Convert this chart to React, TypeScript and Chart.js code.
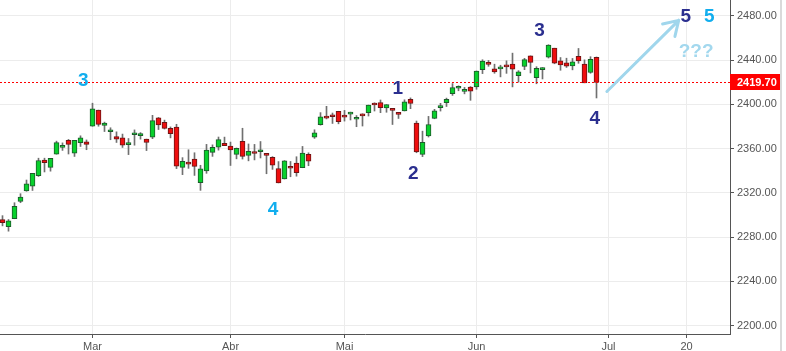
import React, { useEffect, useRef } from 'react';
import { Chart, registerables } from 'chart.js';

Chart.register(...registerables);

// S&P 500 daily candles, 7 Feb – 29 Jun (trading-day index 0..99)
const opens = [
  2295.87, 2289.55, 2296.70, 2312.27, 2321.72, 2326.12, 2335.58, 2349.64, 2343.01, 2354.91,
  2361.11, 2367.50, 2355.73, 2365.23, 2366.08, 2380.13, 2394.75, 2380.92, 2375.23, 2370.74,
  2369.81, 2363.49, 2372.52, 2371.56, 2368.55, 2370.34, 2387.71, 2383.71, 2378.24, 2379.32,
  2343.00, 2345.97, 2350.42, 2329.11, 2339.79, 2356.54, 2361.31, 2364.82, 2362.34, 2354.76,
  2366.59, 2353.79, 2356.59, 2357.16, 2353.92, 2352.15, 2341.98, 2332.62, 2342.53, 2346.79,
  2342.69, 2354.74, 2370.33, 2381.51, 2388.98, 2389.70, 2393.68, 2388.50, 2391.05, 2386.50,
  2389.79, 2392.37, 2399.94, 2401.58, 2396.79, 2394.84, 2392.44, 2393.98, 2404.55, 2382.95,
  2354.69, 2371.37, 2387.21, 2397.04, 2401.41, 2409.54, 2414.50, 2411.67, 2415.63, 2415.65,
  2431.28, 2437.83, 2431.92, 2432.03, 2434.27, 2436.39, 2425.88, 2434.15, 2443.75, 2424.14,
  2431.24, 2442.55, 2450.66, 2439.31, 2437.40, 2434.65, 2443.32, 2436.34, 2428.70, 2442.38,
];
const highs = [
  2299.40, 2295.91, 2311.08, 2319.23, 2331.58, 2337.58, 2351.30, 2351.31, 2351.16, 2366.71,
  2365.13, 2368.26, 2367.34, 2371.54, 2367.79, 2400.98, 2394.75, 2383.89, 2378.80, 2375.12,
  2373.09, 2369.08, 2376.86, 2374.42, 2368.55, 2390.01, 2388.10, 2385.71, 2379.55, 2381.93,
  2351.81, 2358.92, 2356.22, 2344.90, 2363.78, 2363.36, 2370.42, 2370.35, 2365.87, 2360.53,
  2378.36, 2364.16, 2363.76, 2366.37, 2355.22, 2352.72, 2348.26, 2349.14, 2348.35, 2352.63,
  2361.92, 2356.18, 2376.98, 2392.48, 2398.16, 2392.10, 2393.68, 2394.49, 2392.93, 2389.82,
  2391.43, 2399.29, 2401.36, 2403.87, 2399.74, 2395.72, 2392.44, 2404.05, 2405.77, 2384.87,
  2375.74, 2389.06, 2395.46, 2400.85, 2405.58, 2418.71, 2416.68, 2415.26, 2415.99, 2430.06,
  2440.23, 2439.55, 2436.21, 2435.28, 2439.27, 2446.20, 2430.38, 2441.49, 2443.75, 2433.95,
  2433.15, 2453.82, 2450.66, 2442.23, 2441.62, 2441.40, 2450.42, 2440.15, 2442.97, 2442.73,
];
const lows = [
  2290.16, 2285.38, 2296.61, 2311.10, 2321.42, 2322.17, 2334.81, 2338.87, 2339.58, 2354.91,
  2358.34, 2355.09, 2352.87, 2361.87, 2358.96, 2380.13, 2380.17, 2375.39, 2367.98, 2365.51,
  2361.01, 2354.54, 2363.04, 2368.52, 2358.18, 2368.94, 2377.18, 2377.64, 2369.66, 2341.90,
  2336.45, 2342.13, 2335.74, 2322.25, 2337.63, 2352.94, 2358.58, 2362.60, 2344.73, 2350.72,
  2350.52, 2348.90, 2349.76, 2351.50, 2337.25, 2341.18, 2328.95, 2332.51, 2334.54, 2335.05,
  2342.69, 2344.51, 2369.19, 2381.15, 2386.78, 2382.68, 2382.36, 2384.83, 2385.82, 2379.75,
  2380.35, 2389.38, 2393.92, 2392.44, 2392.79, 2381.74, 2387.19, 2393.94, 2396.05, 2356.21,
  2352.72, 2370.43, 2386.92, 2393.88, 2397.99, 2408.01, 2412.20, 2409.43, 2403.59, 2413.54,
  2427.71, 2434.32, 2428.00, 2424.75, 2427.94, 2415.70, 2419.97, 2431.28, 2428.34, 2418.53,
  2422.88, 2441.79, 2436.60, 2430.74, 2433.27, 2431.11, 2437.03, 2419.38, 2428.02, 2405.70,
];
const closes = [
  2293.08, 2294.67, 2307.87, 2316.10, 2328.25, 2337.58, 2349.25, 2347.22, 2351.16, 2365.38,
  2362.82, 2363.81, 2367.34, 2369.75, 2363.64, 2395.96, 2381.92, 2383.12, 2375.31, 2368.39,
  2362.98, 2364.87, 2372.60, 2373.47, 2365.45, 2385.26, 2381.38, 2378.25, 2373.47, 2344.02,
  2348.45, 2345.96, 2343.98, 2341.59, 2358.57, 2361.13, 2368.06, 2362.72, 2358.84, 2360.16,
  2352.95, 2357.49, 2355.54, 2357.16, 2353.78, 2344.93, 2328.95, 2349.01, 2342.19, 2338.17,
  2355.84, 2348.69, 2374.15, 2388.61, 2387.45, 2388.77, 2384.20, 2388.33, 2391.17, 2388.13,
  2389.52, 2399.29, 2399.38, 2396.92, 2399.63, 2394.44, 2390.90, 2402.32, 2400.67, 2357.03,
  2365.72, 2381.73, 2394.02, 2398.42, 2404.39, 2415.07, 2415.82, 2412.91, 2411.80, 2430.06,
  2439.07, 2436.10, 2429.33, 2433.14, 2433.79, 2431.77, 2429.39, 2440.35, 2437.92, 2432.46,
  2433.15, 2453.46, 2437.03, 2435.61, 2434.50, 2438.30, 2439.07, 2419.38, 2440.69, 2419.70,
];

// x-axis: trading-day index of each month label
const monthTickIndex = [15, 38, 57, 79, 101, 114];
const monthTickLabels = ['Mar', 'Abr', 'Mai', 'Jun', 'Jul', '20'];
const priceTicks = [2200, 2240, 2280, 2320, 2360, 2400, 2440, 2480];
const lastPrice = 2419.7;

// hand-drawn wave annotations (trading-day index, price)
const noteTexts = ['3', '4', '1', '2', '3', '4', '5', '5', '???'];
const noteIndex = [13.45, 45.1, 65.9, 68.45, 89.5, 98.7, 113.9, 117.8, 115.6];
const notePrice = [2422.2, 2305.7, 2415.0, 2338.2, 2467.4, 2387.9, 2479.7, 2479.7, 2447.9];
const noteColors = ['#12aeee', '#12aeee', '#2b2f8f', '#2b2f8f', '#2b2f8f', '#2b2f8f', '#2b2f8f', '#12aeee', '#a3d8ee'];
const arrowFrom = [100.73, 2411.6];
const arrowTo = [112.7, 2475.8];

const GREEN = '#08d02c';
const GREEN_BORDER = '#1d5a2b';
const RED = '#ee0e0e';
const RED_BORDER = '#6b1515';

const overlay = {
  id: 'overlay',
  afterDraw(chart: any) {
    const { ctx, chartArea: a, scales } = chart;
    const x = scales.x;
    const y = scales.y;
    ctx.save();
    // current price line
    const py = Math.round(y.getPixelForValue(lastPrice)) + 0.5;
    ctx.strokeStyle = '#ff0000';
    ctx.lineWidth = 1;
    ctx.setLineDash([2, 2]);
    ctx.beginPath();
    ctx.moveTo(a.left, py);
    ctx.lineTo(a.right, py);
    ctx.stroke();
    ctx.setLineDash([]);
    // price tag
    ctx.fillStyle = '#ff0000';
    ctx.fillRect(a.right, py - 8.5, 50, 16);
    ctx.fillStyle = '#ffffff';
    ctx.font = 'bold 11px "Liberation Sans"';
    ctx.textAlign = 'left';
    ctx.textBaseline = 'middle';
    ctx.fillText(lastPrice.toFixed(2), a.right + 7, py + 0.5);
    // arrow
    const sx = x.getPixelForValue(arrowFrom[0]);
    const sy = y.getPixelForValue(arrowFrom[1]);
    const tx = x.getPixelForValue(arrowTo[0]);
    const ty = y.getPixelForValue(arrowTo[1]);
    ctx.strokeStyle = '#a0d6ec';
    ctx.lineWidth = 3;
    ctx.lineCap = 'round';
    ctx.lineJoin = 'round';
    ctx.beginPath();
    ctx.moveTo(sx, sy);
    ctx.lineTo(tx, ty);
    const back = Math.atan2(sy - ty, sx - tx);
    for (const d of [-0.56, 0.56]) {
      ctx.moveTo(tx, ty);
      ctx.lineTo(tx + 16.5 * Math.cos(back + d), ty + 16.5 * Math.sin(back + d));
    }
    ctx.stroke();
    // wave labels
    ctx.font = 'bold 19px "Liberation Sans"';
    ctx.textAlign = 'center';
    ctx.textBaseline = 'middle';
    noteTexts.forEach((t, i) => {
      ctx.fillStyle = noteColors[i];
      ctx.fillText(t, x.getPixelForValue(noteIndex[i]), y.getPixelForValue(notePrice[i]) + 1);
    });
    // right edge
    ctx.fillStyle = '#dadada';
    ctx.fillRect(a.right + 50, 0, 2, chart.height);
    ctx.restore();
  },
};

export default function App() {
  const ref = useRef<HTMLCanvasElement>(null);
  useEffect(() => {
    document.body.style.margin = '0';
    const bodies = opens.map((o, i) => ({ x: i, y: [o, closes[i]] }));
    const wicks = lows.map((l, i) => ({ x: i, y: [l, highs[i]] }));
    const up = opens.map((o, i) => closes[i] >= o);
    const chart = new Chart(ref.current as HTMLCanvasElement, {
      type: 'bar',
      data: {
        datasets: [
          {
            data: bodies as any,
            backgroundColor: up.map((u) => (u ? GREEN : RED)),
            borderColor: up.map((u) => (u ? GREEN_BORDER : RED_BORDER)),
            borderWidth: 1,
            borderSkipped: false,
            barThickness: 5,
            minBarLength: 2,
            grouped: false,
            order: 0,
          },
          {
            data: wicks as any,
            backgroundColor: '#707070',
            borderWidth: 0,
            barThickness: 1,
            grouped: false,
            order: 1,
          },
        ],
      },
      options: {
        responsive: false,
        animation: false,
        events: [],
        layout: { padding: 0 },
        font: { family: '"Liberation Sans"' },
        plugins: { legend: { display: false }, tooltip: { enabled: false } },
        scales: {
          x: {
            type: 'linear',
            min: -2.5 / 6,
            max: (727.5) / 6,
            offset: false,
            grid: { offset: false, color: '#ececec', tickColor: '#555555', tickLength: 4 },
            border: { color: '#555555' },
            ticks: {
              autoSkip: false,
              maxRotation: 0,
              padding: 2,
              color: '#555555',
              font: { family: '"Liberation Sans"', size: 11 },
              callback: (_v: any, i: number) => monthTickLabels[i],
            },
            afterBuildTicks: (axis: any) => {
              axis.ticks = monthTickIndex.map((v) => ({ value: v }));
            },
            afterFit: (axis: any) => {
              axis.height = 17;
              axis.paddingLeft = 0;
              axis.paddingRight = 0;
            },
          },
          y: {
            type: 'linear',
            position: 'right',
            min: 2192.5,
            max: 2494.2,
            beginAtZero: false,
            grid: { color: '#ececec', tickColor: '#555555', tickLength: 4 },
            border: { color: '#555555' },
            ticks: {
              padding: 3,
              color: '#555555',
              font: { family: '"Liberation Sans"', size: 11 },
              callback: (v: any) => Number(v).toFixed(2),
            },
            afterBuildTicks: (axis: any) => {
              axis.ticks = priceTicks.map((v) => ({ value: v }));
            },
            afterFit: (axis: any) => {
              axis.width = 56;
              axis.paddingTop = 0;
              axis.paddingBottom = 0;
            },
          },
        },
      } as any,
      plugins: [overlay],
    });
    return () => chart.destroy();
  }, []);
  return (
    <div style={{ width: 786, height: 351 }}>
      <canvas ref={ref} width={786} height={351} style={{ display: 'block' }} />
    </div>
  );
}
